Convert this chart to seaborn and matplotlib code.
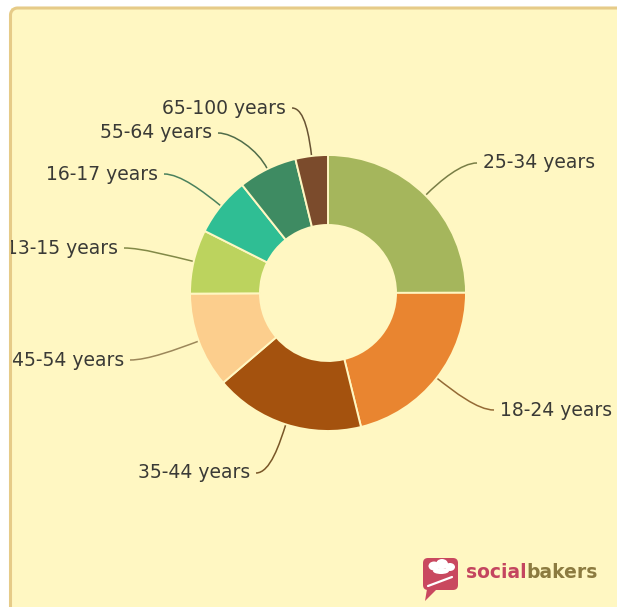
import numpy as np
import matplotlib
matplotlib.use("Agg")
import matplotlib.pyplot as plt
from matplotlib.colors import to_rgb
from matplotlib.patches import Rectangle, FancyBboxPatch, Polygon, Ellipse, PathPatch
from matplotlib.path import Path
import seaborn as sns

# Audience by age group, share of users (%)
age_groups = ["25-34 years", "18-24 years", "35-44 years", "45-54 years",
              "13-15 years", "16-17 years", "55-64 years", "65-100 years"]
shares = [25.0, 21.2, 17.6, 11.2, 7.5, 6.9, 6.9, 3.8]
slice_colors = ["#A5B65C", "#E98530", "#A4520E", "#FCCE8D",
                "#BCD35E", "#2FBE94", "#3E8B62", "#7B4B2C"]

W, H = 617, 607
BG = "#FFF7C2"
EDGE = "#E6CB88"

sns.set_theme(style="white")
plt.rcParams["font.family"] = ["DejaVu Sans"]

fig = plt.figure(figsize=(W / 100, H / 100), dpi=100, facecolor="white")
ax = fig.add_axes([0, 0, 1, 1])
ax.set_xlim(0, W)
ax.set_ylim(0, H)


def top(y):
    """Convert a distance from the top edge into an upward y coordinate."""
    return H - y


# pale card: fill, plus a border along the left and top with a rounded corner
left, ceil, rc = 10.5, top(8), 7
card = Rectangle((left, -5), W + 10 - left, ceil + 5, facecolor=BG,
                 edgecolor="none", zorder=0)
ax.add_patch(card)
corner = np.linspace(np.pi, np.pi / 2, 12)
border_x = np.concatenate([[left], left + rc + rc * np.cos(corner), [W + 5]])
border_y = np.concatenate([[-5], ceil - rc + rc * np.sin(corner), [ceil]])
ax.plot(border_x, border_y, color=EDGE, lw=2.2, zorder=0.5, solid_capstyle="butt")

# donut
cx, cy = 328, top(293)
R, ring = 138, 70
palette = sns.color_palette(slice_colors)
wedges, _ = ax.pie(shares, colors=palette, startangle=90, counterclock=False,
                   radius=R, center=(cx, cy), frame=True,
                   wedgeprops=dict(width=ring, edgecolor=BG, linewidth=1.4))
for w in wedges:
    w.set_zorder(2)

# label placement (text edge x, distance from top, alignment)
label_spots = [(483, 163, "left"), (500, 410, "left"), (250, 473, "right"),
               (124, 360, "right"), (118, 248, "right"), (158, 174, "right"),
               (212, 133, "right"), (286, 108, "right")]

line_base = np.array(to_rgb("#5C5838"))
for w, name, col, (lx, ly, ha) in zip(wedges, age_groups, slice_colors, label_spots):
    mid = np.deg2rad((w.theta1 + w.theta2) / 2)
    radial = np.array([np.cos(mid), np.sin(mid)])
    start = np.array([cx, cy]) + R * radial
    hdir = 1 if ha == "left" else -1
    end = np.array([lx - 6 * hdir, top(ly)])
    dist = np.linalg.norm(end - start)
    p1 = start + radial * 0.35 * dist
    p2 = end - np.array([hdir * 0.25 * dist, 0])
    path = Path([start, p1, p2, end],
                [Path.MOVETO, Path.CURVE4, Path.CURVE4, Path.CURVE4])
    line_col = 0.4 * np.array(to_rgb(col)) + 0.6 * line_base
    conn = PathPatch(path, facecolor="none", edgecolor=line_col, linewidth=1.1, zorder=1)
    ax.add_patch(conn)
    conn.set_clip_path(card)
    t = ax.text(lx, top(ly), name, ha=ha, va="center", fontsize=13.5,
                color="#3A3A36", zorder=3, clip_on=True)
    t.set_clip_path(card)

# socialbakers mark
icon_col = "#C9485F"
ax.add_patch(FancyBboxPatch((423, top(590)), 35, 32,
                            boxstyle="round,pad=0,rounding_size=5",
                            facecolor=icon_col, edgecolor="none", zorder=3))
ax.add_patch(Polygon([(427, top(589)), (437, top(589)), (425, top(601))],
                     closed=True, facecolor=icon_col, edgecolor="none", zorder=3))
for ex, ey, ew, eh in [(434, 566, 11, 9), (442, 564, 12, 10), (450, 567, 10, 8),
                       (441, 571, 16, 6)]:
    ax.add_patch(Ellipse((ex, top(ey)), ew, eh, facecolor="white",
                         edgecolor="none", zorder=4))
ax.plot([428, 452], [top(586), top(577)], color="white", lw=1.6, zorder=4)

t1 = ax.text(466, top(572), "social", ha="left", va="center", fontsize=13.5,
             fontweight="bold", color="#C4455F", zorder=3)
ax.annotate("bakers", xy=(1, 0), xycoords=t1, ha="left", va="bottom",
            fontsize=13.5, fontweight="bold", color="#8C7B40", zorder=3)

ax.set_xlim(0, W)
ax.set_ylim(0, H)
ax.set_aspect("auto")
ax.axis("off")

fig.savefig("out.png", dpi=100, facecolor="white")
